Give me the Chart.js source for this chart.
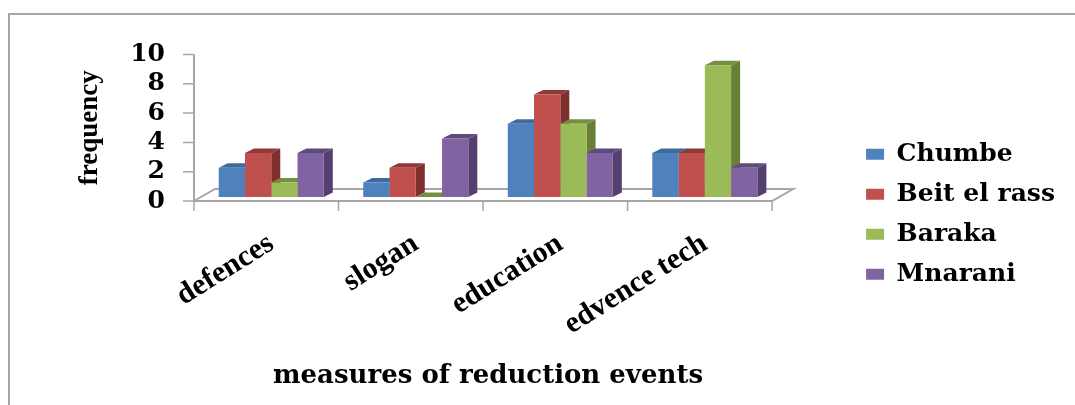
<!DOCTYPE html>
<html><head><meta charset="utf-8">
<style>html,body{margin:0;padding:0;background:#fff}#wrap{width:1075px;height:405px;position:relative;overflow:hidden}</style>
<script src="https://cdn.jsdelivr.net/npm/chart.js@4"></script>
</head><body><div id="wrap"><canvas id="c" width="1075" height="405"></canvas></div>
<script>
const categories = ['defences','slogan','education','edvence tech'];
const seriesNames = ['Chumbe','Beit el rass','Baraka','Mnarani'];
const chumbe = [2,1,5,3];
const beitElRass = [3,2,7,3];
const baraka = [1,0,5,9];
const mnarani = [3,4,3,2];
const yTicks = [0,2,4,6,8,10];
const frontColors = ['#4f81bd','#c0504d','#9bbb59','#8064a2'];
const sideColors = ['#385d8a','#7f2f2d','#687f35','#543f6e'];
const topColors = ['#3f6a9e','#8f3a38','#74903f','#5f4a7d'];
const depthX = 9, depthY = 4.5;

const decor = {
  id:'decor',
  beforeDraw(chart){
    const {ctx,width,height} = chart;
    ctx.save();
    ctx.fillStyle='#fff';ctx.fillRect(0,0,width,height);
    ctx.strokeStyle='#a6a6a6';ctx.lineWidth=2;
    ctx.beginPath();ctx.moveTo(9,405);ctx.lineTo(9,14);ctx.lineTo(1075,14);ctx.stroke();
    const a=chart.chartArea, b=a.bottom, l=a.left-5, r=a.right-5;
    ctx.beginPath();
    ctx.moveTo(l,a.top);ctx.lineTo(l,b+1);
    ctx.moveTo(l,b);ctx.lineTo(r,b);ctx.lineTo(r+21,b-12);ctx.lineTo(l+21,b-12);ctx.lineTo(l,b);
    ctx.stroke();
    ctx.lineWidth=1.5;
    ctx.beginPath();
    const ys=chart.scales.y;
    yTicks.forEach(t=>{const p=ys.getPixelForValue(t);ctx.moveTo(l-11,p);ctx.lineTo(l,p);});
    const n=categories.length, step=(r-l)/n;
    for(let i=0;i<=n;i++){ctx.moveTo(l+i*step,b);ctx.lineTo(l+i*step,b+10);}
    ctx.stroke();
    ctx.restore();
  },
  beforeDatasetsDraw(chart){
    const {ctx}=chart;
    const bars=[];
    chart.data.datasets.forEach((d,i)=>{
      chart.getDatasetMeta(i).data.forEach(el=>bars.push({el,i}));
    });
    bars.sort((p,q)=>p.el.x-q.el.x);
    ctx.save();
    bars.forEach(({el,i})=>{
      const w=el.width, x0=el.x-w/2, x1=el.x+w/2, t=el.y, b=el.base;
      ctx.fillStyle=sideColors[i];
      ctx.beginPath();ctx.moveTo(x1,t);ctx.lineTo(x1+depthX,t-depthY);ctx.lineTo(x1+depthX,b-depthY);ctx.lineTo(x1,b);ctx.closePath();ctx.fill();
      ctx.fillStyle=topColors[i];
      ctx.beginPath();ctx.moveTo(x0,t);ctx.lineTo(x0+depthX,t-depthY);ctx.lineTo(x1+depthX,t-depthY);ctx.lineTo(x1,t);ctx.closePath();ctx.fill();
    });
    ctx.restore();
  }
};

const serif='"DejaVu Serif"';
new Chart(document.getElementById('c'),{
  type:'bar',
  data:{labels:categories,datasets:[chumbe,beitElRass,baraka,mnarani].map((v,i)=>({
    label:seriesNames[i],data:v,backgroundColor:frontColors[i],yAxisID:'yBars',
    barPercentage:1,categoryPercentage:0.727
  }))},
  plugins:[decor],
  options:{
    responsive:false,animation:false,
    layout:{padding:{left:74,right:10,top:54.5,bottom:31}},
    plugins:{
      tooltip:{enabled:false},
      legend:{position:'right',align:'center',
        labels:{boxWidth:18,boxHeight:11,padding:15,color:'#000',font:{family:serif,weight:'bold',size:25}}}
    },
    scales:{
      x:{grid:{display:false},border:{display:false},
        ticks:{minRotation:32,maxRotation:32,color:'#000',padding:17,font:{family:'"Liberation Serif"',weight:'bold',size:30}},
        title:{display:true,text:'measures of reduction events',color:'#000',font:{family:serif,weight:'bold',size:26},padding:{top:10,bottom:-18}},
        afterFit(s){s.height=173;}
      },
      y:{min:0,max:10,afterBuildTicks(s){s.ticks=yTicks.map(v=>({value:v}));},
        grid:{display:false},border:{display:false},
        ticks:{autoSkip:false,color:'#000',padding:26,font:{family:serif,weight:'bold',size:25}},
        title:{display:true,text:'frequency',color:'#000',font:{family:'"Liberation Serif"',weight:'bold',size:27},padding:{top:0,bottom:6}},
        afterFit(s){s.width=125;}
      },
      yBars:{display:false,position:'right',min:-0.27,max:9.73,afterFit(s){s.width=74;}}
    }
  }
});
</script></body></html>
